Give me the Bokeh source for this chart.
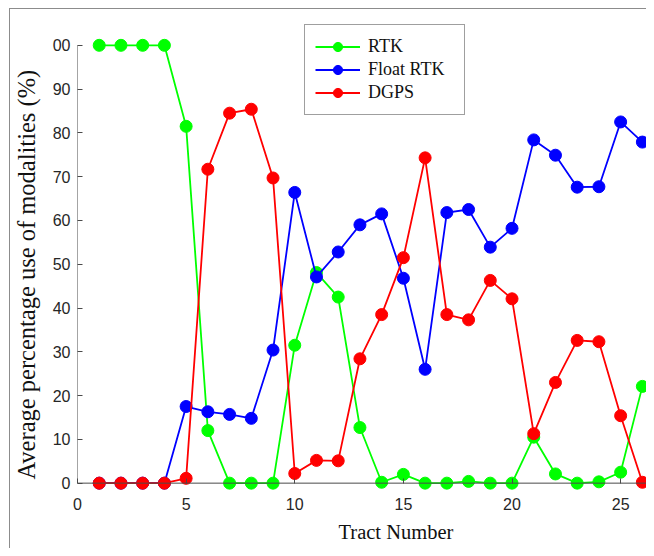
from bokeh.plotting import figure
from bokeh.models import (Range1d, FixedTicker, Legend, LegendItem, Span, Title,
                          ColumnDataSource, InlineStyleSheet)
from bokeh.embed import file_html
from bokeh.resources import INLINE

# ---------------- data ----------------
tract = list(range(1, 27))
rtk = [100, 100, 100, 100, 81.5, 12.0, 0, 0, 0, 31.5, 48.1, 42.5, 12.7, 0.2,
       2.0, 0, 0, 0.4, 0, 0, 10.5, 2.1, 0, 0.3, 2.5, 22.1]
float_rtk = [0, 0, 0, 0, 17.5, 16.3, 15.7, 14.8, 30.4, 66.4, 47.1, 52.8, 59.0,
             61.5, 46.8, 26.0, 61.8, 62.5, 53.9, 58.2, 78.4, 74.9, 67.6, 67.7,
             82.5, 77.9]
dgps = [0, 0, 0, 0, 1.1, 71.7, 84.5, 85.4, 69.7, 2.2, 5.2, 5.1, 28.4, 38.5,
        51.5, 74.3, 38.5, 37.3, 46.3, 42.1, 11.3, 23.0, 32.6, 32.3, 15.4, 0.2]

series_names = ["RTK", "Float RTK", "DGPS"]
series_colors = ["#00ff00", "#0000ff", "#ff0000"]

x_ticks = [0, 5, 10, 15, 20, 25]
y_ticks = [0, 10, 20, 30, 40, 50, 60, 70, 80, 90, 100]
y_tick_labels = {100: "00"}

x_title = "Tract Number"
y_title = "Average percentage use of modalities  (%)"

X_MIN, X_MAX = 0, 26.19
Y_MIN, Y_MAX = 0, 100

AX_COLOR = "#4a4a4a"
TXT_COLOR = "#262626"

frame_css = InlineStyleSheet(css="""
:host::after {
  content: "";
  position: absolute;
  left: 9px; top: 8px; right: 0; bottom: 0;
  border-top: 1px solid #8c8c8c;
  border-left: 1px solid #8c8c8c;
  pointer-events: none;
}
""")

p = figure(width=646, height=548, output_backend="svg", toolbar_location=None,
           x_range=Range1d(X_MIN, X_MAX), y_range=Range1d(-1.68, 105.67),
           min_border_left=77, min_border_right=0, min_border_top=20,
           min_border_bottom=55, stylesheets=[frame_css])
p.outline_line_color = None
p.xgrid.visible = False
p.ygrid.visible = False
p.background_fill_color = "white"
p.border_fill_color = "white"

# spines at data zero
p.add_layout(Span(location=0, dimension="width", line_color=AX_COLOR, line_width=1))
p.segment(x0=[X_MIN], y0=[Y_MIN], x1=[X_MIN], y1=[Y_MAX], line_color=AX_COLOR,
          line_width=1)

# x axis
xa = p.xaxis[0]
xa.ticker = FixedTicker(ticks=x_ticks)
xa.axis_line_color = None
xa.major_tick_in = 12
xa.major_tick_out = -7
xa.major_tick_line_color = AX_COLOR
xa.minor_tick_line_color = None
xa.major_label_standoff = 7
xa.major_label_text_font = "Liberation Sans"
xa.major_label_text_font_size = "16px"
xa.major_label_text_color = TXT_COLOR

# y axis
ya = p.yaxis[0]
ya.ticker = FixedTicker(ticks=y_ticks)
ya.major_label_overrides = y_tick_labels
ya.axis_line_color = None
ya.major_tick_in = 5
ya.major_tick_out = 0
ya.major_tick_line_color = AX_COLOR
ya.minor_tick_line_color = None
ya.major_label_standoff = 7
ya.major_label_text_font = "Liberation Sans"
ya.major_label_text_font_size = "16px"
ya.major_label_text_color = TXT_COLOR

# axis titles
p.add_layout(Title(text=x_title, align="left", offset=261, standoff=12,
                   text_font="Liberation Serif", text_font_size="20.5px",
                   text_font_style="normal", text_color="#111111"), "below")
p.add_layout(Title(text=y_title, align="left", offset=11, standoff=20,
                   text_font="Liberation Serif", text_font_size="24.5px",
                   text_font_style="normal", text_color="#111111"), "left")

# series
items = []
for name, vals, col in zip(series_names, [rtk, float_rtk, dgps], series_colors):
    src = ColumnDataSource(dict(x=tract, y=vals))
    lr = p.line("x", "y", source=src, line_color=col, line_width=1.8)
    sr = p.scatter("x", "y", source=src, size=12, fill_color=col, line_color=col)
    items.append(LegendItem(label=name, renderers=[lr, sr]))

legend = Legend(items=items, location=(227, 375))
legend.padding = 10
legend.spacing = 0
legend.margin = 0
legend.glyph_width = 45
legend.glyph_height = 23
legend.label_height = 23
legend.label_width = 86
legend.label_standoff = 8
legend.label_text_font = "Liberation Serif"
legend.label_text_font_size = "18px"
legend.label_text_color = "#111111"
legend.border_line_color = "#404040"
legend.border_line_width = 1
legend.background_fill_color = "white"
legend.background_fill_alpha = 1
p.add_layout(legend, "center")

open("out.html", "w").write(file_html(p, INLINE))
